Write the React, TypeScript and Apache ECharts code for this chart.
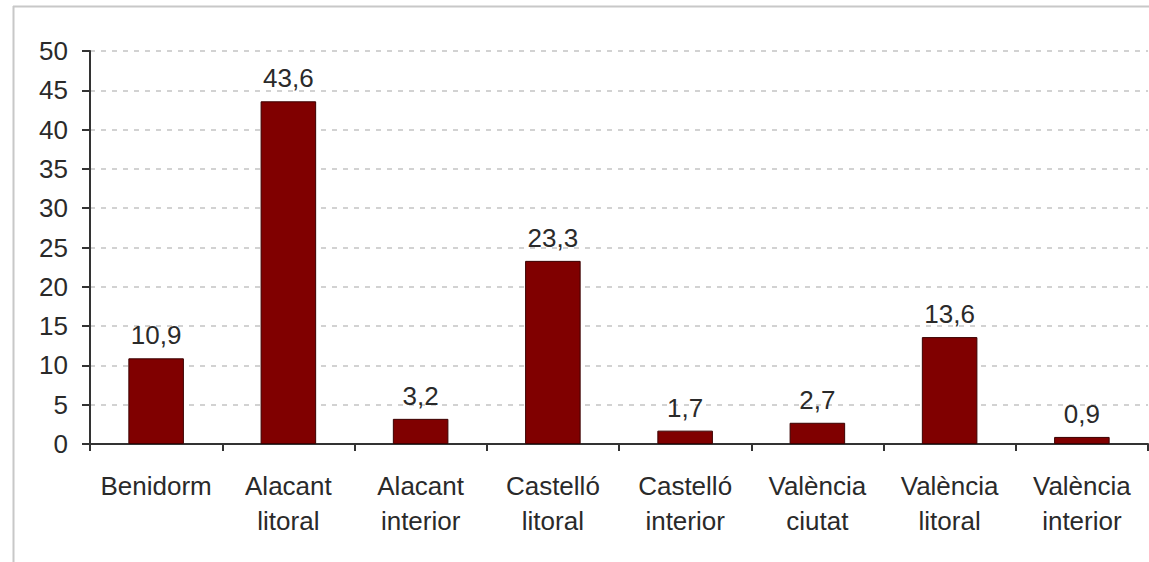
import React, { useEffect, useRef } from "react";
import * as echarts from "echarts";

const categories = [
  "Benidorm",
  "Alacant\nlitoral",
  "Alacant\ninterior",
  "Castelló\nlitoral",
  "Castelló\ninterior",
  "València\nciutat",
  "València\nlitoral",
  "València\ninterior",
];
const values = [10.9, 43.6, 3.2, 23.3, 1.7, 2.7, 13.6, 0.9];

export default function App() {
  const ref = useRef<HTMLDivElement>(null);
  useEffect(() => {
    document.body.style.margin = "0";
    const chart = echarts.init(ref.current!, null, { renderer: "svg" });
    const font = "'Liberation Sans', Arial, sans-serif";
    chart.setOption({
      animation: false,
      backgroundColor: "#ffffff",
      textStyle: { fontFamily: font },
      graphic: [
        { type: "line", shape: { x1: 13, y1: 6.5, x2: 1149, y2: 6.5 }, style: { stroke: "#c8c8c8", lineWidth: 2 } },
        { type: "line", shape: { x1: 13.5, y1: 6, x2: 13.5, y2: 562 }, style: { stroke: "#c8c8c8", lineWidth: 2 } },
      ],
      grid: { left: 90, top: 51, right: 1, bottom: 118, containLabel: false },
      xAxis: {
        type: "category",
        data: categories,
        boundaryGap: true,
        axisLine: { lineStyle: { color: "#333333", width: 2 } },
        axisTick: { show: true, length: 7, lineStyle: { color: "#333333", width: 2 } },
        axisLabel: {
          color: "#2a2a2a",
          fontSize: 26,
          fontFamily: font,
          lineHeight: 35,
          margin: 24,
          interval: 0,
        },
      },
      yAxis: {
        type: "value",
        min: 0,
        max: 50,
        interval: 5,
        axisLine: { show: true, lineStyle: { color: "#333333", width: 2 } },
        axisTick: { show: true, length: 8, lineStyle: { color: "#333333", width: 2 } },
        axisLabel: { color: "#2a2a2a", fontSize: 26, fontFamily: font, margin: 22 },
        splitLine: { show: true, lineStyle: { color: "#c4c4c4", type: [5, 6], width: 1.5 } },
      },
      series: [
        {
          type: "bar",
          data: values,
          barWidth: "42%",
          itemStyle: { color: "#800000", borderColor: "#3a0000", borderWidth: 1 },
          label: {
            show: true,
            position: "top",
            distance: 10,
            color: "#2a2a2a",
            fontSize: 26,
            fontFamily: font,
            formatter: (p: any) => String(p.value).replace(".", ","),
          },
        },
      ],
    });
    return () => chart.dispose();
  }, []);
  return <div ref={ref} style={{ width: 1149, height: 562 }} />;
}
